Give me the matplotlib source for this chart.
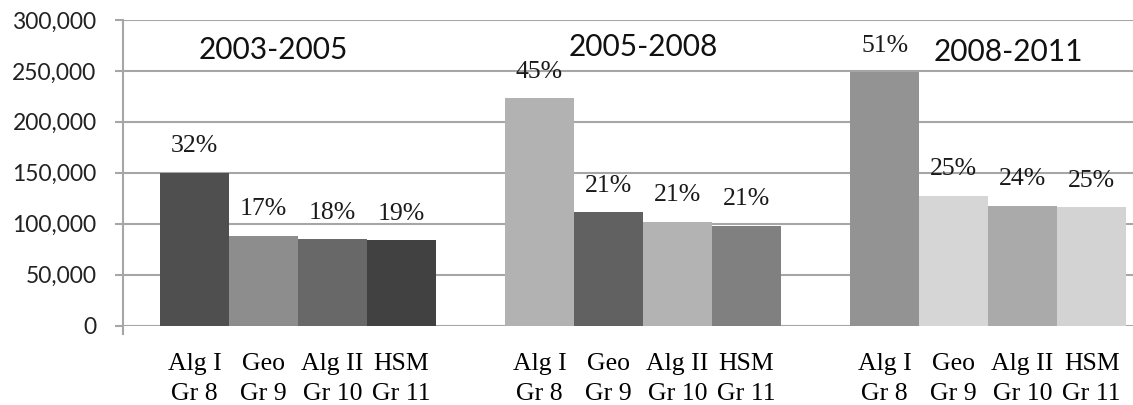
import numpy as np
import matplotlib
matplotlib.use('Agg')
import matplotlib.pyplot as plt
from matplotlib.ticker import FuncFormatter

# Course labels and period titles
courses = ['Alg I\nGr 8', 'Geo\nGr 9', 'Alg II\nGr 10', 'HSM\nGr 11']
periods = ['2003-2005', '2005-2008', '2008-2011']

# Counts per course, one list per period
counts_0305 = [150000, 88000, 85000, 84000]
counts_0508 = [223000, 111000, 102000, 98000]
counts_0811 = [249000, 127500, 117500, 116000]

# Percent labels shown above the bars
pct_0305 = ['32%', '17%', '18%', '19%']
pct_0508 = ['45%', '21%', '21%', '21%']
pct_0811 = ['51%', '25%', '24%', '25%']

# Bar shades
colors_0305 = ['#4f4f4f', '#8d8d8d', '#686868', '#414141']
colors_0508 = ['#b2b2b2', '#616161', '#b3b3b3', '#808080']
colors_0811 = ['#939393', '#d6d6d6', '#aaaaaa', '#d3d3d3']

all_counts = [counts_0305, counts_0508, counts_0811]
all_pct = [pct_0305, pct_0508, pct_0811]
all_colors = [colors_0305, colors_0508, colors_0811]

grid_col = '#a6a6a6'
serif = 'Liberation Serif'
sans = 'Lato'

fig = plt.figure(figsize=(11.33, 4.05), dpi=100)
ax = fig.add_axes([123 / 1133, 1 - 325.5 / 405, 1 - 123 / 1133, 305.5 / 405])

xpos = []
xlab = []
for g, (vals, pcts, cols) in enumerate(zip(all_counts, all_pct, all_colors)):
    x = np.arange(4) + g * 5
    ax.bar(x, vals, width=1.0, color=cols, zorder=3)
    for xi, v, p in zip(x, vals, pcts):
        ax.annotate(p, (xi, v), xytext=(0, 19), textcoords='offset points',
                    ha='center', va='center', fontsize=18.5, family=serif,
                    color='#1a1a1a', zorder=4)
    xpos.extend(x)
    xlab.extend(courses)

# Period titles
title_x = [1.14, 6.51, 11.8]
title_y = [270500, 273500, 268500]
for tx, ty, t in zip(title_x, title_y, periods):
    ax.text(tx, ty, t, ha='center', va='center', fontsize=21.5, family=sans,
            color='#111111', zorder=4)

ax.set_xlim(-1.036, 13.6)
ax.set_ylim(0, 300000)
ax.set_yticks(np.arange(0, 300001, 50000))
ax.yaxis.set_major_formatter(FuncFormatter(lambda v, _: f'{int(v):,}'))
ax.set_xticks(xpos)
ax.set_xticklabels(xlab, family=serif, fontsize=18.5, linespacing=1.48)
ax.tick_params(axis='x', length=0, pad=19.5)
ax.tick_params(axis='y', length=6, width=1.5, color=grid_col, pad=13,
               labelsize=16.5)
for lab in ax.get_yticklabels():
    lab.set_family(sans)
    lab.set_color('#222222')

ax.grid(axis='y', color=grid_col, linewidth=1.5, zorder=0)
for s in ['top', 'right', 'bottom']:
    ax.spines[s].set_visible(False)
ax.spines['left'].set_color(grid_col)
ax.spines['left'].set_linewidth(1.5)
ax.spines['left'].set_bounds(-8000, 300000)
ax.spines['left'].set_zorder(1)

fig.savefig('out.png', dpi=100)
